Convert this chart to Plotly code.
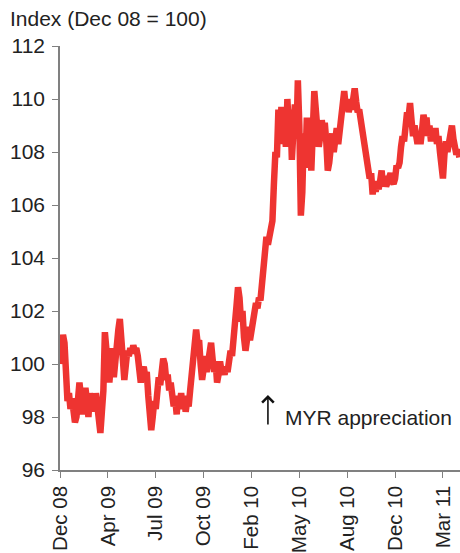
import plotly.graph_objects as go

# Ringgit index, rebased to Dec 08 = 100 (observations in time order)
index_values = [
    100.0, 100.9, 101.1, 100.8, 99.2, 98.6, 98.9, 98.3, 98.7, 98.2,
    97.8, 98.0, 98.7, 99.3, 98.8, 98.1, 98.5, 99.1, 98.6, 98.0,
    98.9, 98.3, 98.8, 98.2, 98.9, 98.5, 97.8, 97.4, 98.2, 99.0,
    101.2, 100.5, 99.8, 99.3, 100.0, 100.6, 99.5, 100.3, 100.9, 101.3,
    101.7, 101.2, 100.2, 99.4, 100.1, 100.5, 100.3, 100.6, 100.4, 100.7,
    100.5, 100.6, 100.3, 99.8, 99.3, 99.7, 99.9, 99.5, 99.7, 98.8,
    97.9, 97.5, 98.0, 98.6, 98.3, 98.9, 99.5, 99.2, 99.8, 100.2,
    100.0, 99.4, 99.6, 99.0, 99.3, 98.7, 98.4, 98.7, 98.1, 98.8,
    98.5, 98.9, 98.3, 98.8, 98.2, 98.6, 98.4, 99.0, 99.6, 100.6,
    101.1, 101.3, 100.8, 100.9, 100.0, 99.4, 99.8, 100.3, 99.7, 100.2,
    100.4, 100.8, 100.2, 99.7, 100.1, 99.3, 99.6, 100.1, 99.7, 99.8,
    99.6, 99.9, 99.7, 100.2, 100.5, 100.3, 100.8, 101.5, 102.2, 102.9,
    102.5, 101.6, 102.0, 101.0, 100.5, 100.9, 101.4, 100.9, 101.3, 101.6,
    102.0, 102.3, 102.1, 102.5, 102.4, 102.9, 103.6, 104.2, 104.8, 104.5,
    104.8, 104.9, 105.4, 106.8, 108.0, 107.8, 109.6, 108.3, 109.7, 108.4,
    108.9, 108.2, 110.0, 108.8, 109.6, 107.7, 109.0, 109.8, 108.5, 110.7,
    109.0, 105.6, 106.5, 108.7, 107.4, 109.3, 107.6, 108.9, 107.3, 109.0,
    110.3, 109.6, 108.9, 108.2, 108.6, 109.2, 108.7, 109.1, 108.4, 107.3,
    107.6, 108.2, 108.7, 108.0, 108.5, 108.9, 108.3, 108.8, 109.2, 109.9,
    110.3, 109.7, 110.0, 109.5, 109.8, 109.6, 110.2, 110.4, 109.9, 109.5,
    109.6, 109.2, 109.0, 108.7, 108.4, 107.9, 107.3, 107.0, 107.2, 106.4,
    106.9, 106.5, 106.8, 106.6, 106.9, 107.3, 106.7, 107.1, 106.7, 106.9,
    107.1, 107.2, 106.9, 106.8, 107.0, 107.5, 107.4, 107.6, 108.2, 108.6,
    108.4, 108.9, 109.5, 109.3, 109.85, 109.2, 108.6, 109.0, 108.5, 108.3,
    108.7, 108.3, 108.8, 109.4, 109.1, 109.3, 108.6, 109.0, 108.4, 108.8,
    108.6, 108.9, 108.3, 108.6, 108.0, 107.3, 107.0, 107.9, 108.4, 108.0,
    108.5, 108.7, 109.0, 108.5, 108.3, 107.9, 108.1, 107.8,
]

tick_labels = ["Dec 08", "Apr 09", "Jul 09", "Oct 09", "Feb 10",
               "May 10", "Aug 10", "Dec 10", "Mar 11"]
y_ticks = [96, 98, 100, 102, 104, 106, 108, 110, 112]

obs = list(range(len(index_values)))
tick_step = 32
tick_pos = [i * tick_step for i in range(len(tick_labels))]

FONT = "Liberation Sans, Arial, sans-serif"
TEXT = "#222222"
AXIS = "#808080"

fig = go.Figure()
fig.add_trace(go.Scatter(
    x=obs, y=index_values, mode="lines",
    line=dict(color="#EE3431", width=6.5),
    hoverinfo="y", showlegend=False,
))

fig.update_layout(
    width=460, height=553,
    margin=dict(l=60, r=0, t=46, b=83),
    paper_bgcolor="white", plot_bgcolor="white",
    font=dict(family=FONT, size=21, color=TEXT),
    xaxis=dict(
        range=[0, 267.4], tickmode="array", tickvals=tick_pos,
        ticktext=tick_labels, tickangle=-90, ticks="outside", ticklen=6,
        tickcolor=AXIS, showline=True, linecolor=AXIS, linewidth=1.5,
        showgrid=False, zeroline=False, tickfont=dict(size=20.5),
        automargin=False,
    ),
    yaxis=dict(
        range=[96, 112], tickmode="array", tickvals=y_ticks,
        ticks="outside", ticklen=6, tickcolor=AXIS, showline=True,
        linecolor=AXIS, linewidth=1.5, showgrid=False, zeroline=False,
        tickfont=dict(size=21), ticklabelstandoff=3, automargin=False,
    ),
    annotations=[
        dict(text="Index (Dec 08 = 100)", xref="paper", yref="paper",
             x=-0.13, y=1.064, xanchor="left", yanchor="middle",
             showarrow=False, font=dict(size=21, color=TEXT)),
        dict(text="", x=139, y=98.83, xref="x", yref="y",
             showarrow=True, ax=0, ay=31, arrowhead=4, arrowsize=1.4,
             arrowwidth=1.6, arrowcolor="#111111"),
        dict(text="MYR appreciation", x=149, y=98.0, xref="x", yref="y",
             xanchor="left", yanchor="middle", showarrow=False,
             font=dict(size=21, color=TEXT)),
    ],
)

fig.write_html("out.html")
